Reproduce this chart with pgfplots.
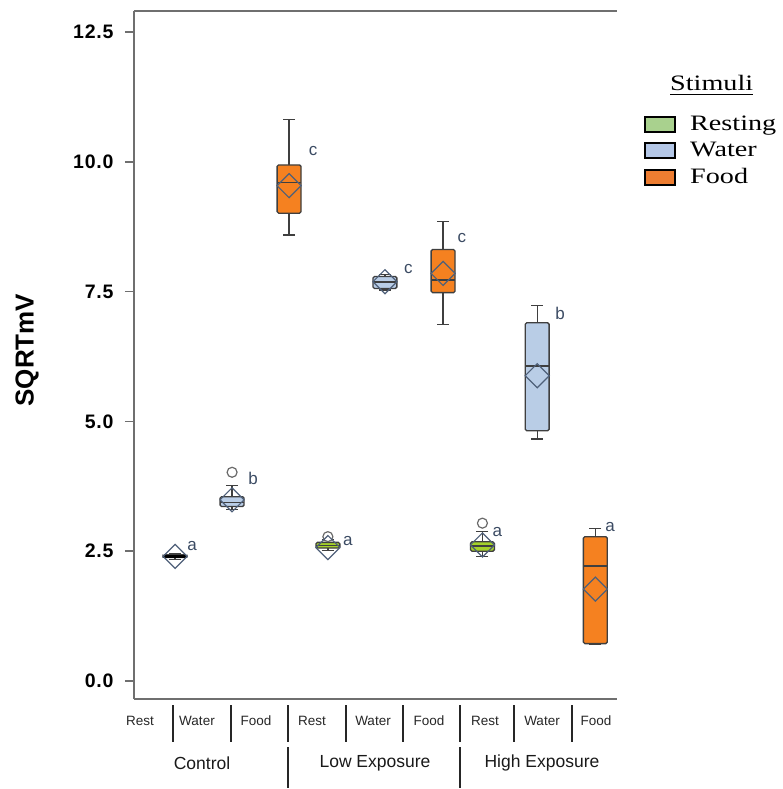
\documentclass[border=0pt]{standalone}
\usepackage{fontspec}
\setmainfont{Liberation Sans}
\newfontfamily\legendfont{Liberation Serif}
\usepackage{pgfplots}
\pgfplotsset{compat=1.18}
\usepgfplotslibrary{statistics}

\definecolor{boxedge}{HTML}{3F3F3F}
\definecolor{foodorange}{HTML}{F58120}
\definecolor{waterblue}{HTML}{B9CDE6}
\definecolor{restgreen}{HTML}{A4D12B}
\definecolor{legrest}{HTML}{A9D18E}
\definecolor{legwater}{HTML}{B4C7E7}
\definecolor{legfood}{HTML}{ED7D31}
\definecolor{meancol}{HTML}{4F6079}
\definecolor{lettercol}{HTML}{3B4B63}
\definecolor{axisgray}{HTML}{6F6F6F}
\definecolor{outgray}{HTML}{6A6A6A}

\pgfplotsset{
  grpbox/.style={
    draw=boxedge, line width=1.3pt, solid,
    mark=*, mark size=5pt,
    mark options={fill=white, draw=outgray, line width=1.2pt},
    boxplot/draw direction=y,
    boxplot/box extend=0.42,
    boxplot/whisker extend=0.21,
    boxplot/every box/.style={rounded corners=1.5pt},
    boxplot/every median/.style={line width=1.6pt, draw=boxedge},
  },
}
\tikzset{
  sig/.style={font=\fontsize{17}{19}\selectfont, text=lettercol, anchor=base},
  legtext/.style={anchor=base west, inner sep=0pt, font=\legendfont\fontsize{22}{24}\selectfont},
}
% legend text is set a little wider than its natural width
\newcommand{\wide}[1]{\scalebox{1.28}[1]{#1}}

\begin{document}
\begin{tikzpicture}
\begin{axis}[
  at={(0,0)}, anchor=south west,
  scale only axis, width=483pt, height=688pt,
  xmin=0, xmax=8.47, ymin=-0.347, ymax=12.905,
  axis lines=left,
  axis line style={-, draw=axisgray, line width=1.5pt},
  xtick=\empty,
  ytick={0,2.5,5,7.5,10,12.5},
  tick align=outside,
  major tick length=9pt,
  tick style={draw=axisgray, line width=1.4pt},
  /pgf/number format/.cd, fixed, fixed zerofill, precision=1, assume math mode=true,
  /pgfplots/.cd,
  yticklabel style={font=\fontsize{19.5}{21}\selectfont\bfseries\addfontfeature{LetterSpace=4}, xshift=-8pt},
  ylabel={\bfseries SQRTmV},
  ylabel style={font=\fontsize{26}{28}\selectfont, at={(axis description cs:-0.2215,0.507)}, anchor=center},
  clip=false,
]
% top frame line
\draw[axisgray, line width=1.5pt] (rel axis cs:0,1) -- (rel axis cs:1,1);

% Control
\addplot[grpbox, fill=restgreen, boxplot prepared={draw position=0.72,
  lower whisker=2.34, lower quartile=2.38, median=2.40,
  upper quartile=2.43, upper whisker=2.46},
  boxplot/every median/.style={line width=2.6pt, draw=black}] coordinates {};
\addplot[grpbox, fill=waterblue, boxplot prepared={draw position=1.72,
  lower whisker=3.30, lower quartile=3.36, median=3.44,
  upper quartile=3.55, upper whisker=3.76}] coordinates {(0,4.02)};
\addplot[grpbox, fill=foodorange, boxplot prepared={draw position=2.72,
  lower whisker=8.59, lower quartile=9.01, median=9.60,
  upper quartile=9.94, upper whisker=10.82}] coordinates {};

% Low Exposure
\addplot[grpbox, fill=restgreen, boxplot prepared={draw position=3.40,
  lower whisker=2.52, lower quartile=2.56, median=2.61,
  upper quartile=2.67, upper whisker=2.72}] coordinates {(0,2.78)};
\addplot[grpbox, fill=waterblue, boxplot prepared={draw position=4.40,
  lower whisker=7.53, lower quartile=7.56, median=7.68,
  upper quartile=7.79, upper whisker=7.83}] coordinates {};
\addplot[grpbox, fill=foodorange, boxplot prepared={draw position=5.42,
  lower whisker=6.87, lower quartile=7.48, median=7.72,
  upper quartile=8.31, upper whisker=8.85}] coordinates {};

% High Exposure
\addplot[grpbox, fill=restgreen, boxplot prepared={draw position=6.11,
  lower whisker=2.40, lower quartile=2.50, median=2.60,
  upper quartile=2.68, upper whisker=2.88}] coordinates {(0,3.04)};
\addplot[grpbox, fill=waterblue, boxplot prepared={draw position=7.07,
  lower whisker=4.66, lower quartile=4.82, median=6.07,
  upper quartile=6.90, upper whisker=7.23}] coordinates {};
\addplot[grpbox, fill=foodorange, boxplot prepared={draw position=8.09,
  lower whisker=0.70, lower quartile=0.72, median=2.21,
  upper quartile=2.78, upper whisker=2.94}] coordinates {};

% group means
\addplot[only marks, mark=square, mark size=8.5pt,
  mark options={rotate=45, draw=meancol, line width=1.2pt}] coordinates {
  (0.72,2.40) (1.72,3.49) (2.72,9.54)
  (3.40,2.57) (4.40,7.69) (5.42,7.85)
  (6.11,2.62) (7.07,5.88) (8.09,1.77)
};

% significance letters
\node[sig] at (axis cs:1.02,2.52) {a};
\node[sig] at (axis cs:2.09,3.79) {b};
\node[sig] at (axis cs:3.14,10.13) {c};
\node[sig] at (axis cs:3.75,2.60) {a};
\node[sig] at (axis cs:4.81,7.85) {c};
\node[sig] at (axis cs:5.75,8.45) {c};
\node[sig] at (axis cs:6.37,2.79) {a};
\node[sig] at (axis cs:7.47,6.97) {b};
\node[sig] at (axis cs:8.35,2.88) {a};
\end{axis}

% category table below the axis
\begin{scope}[line width=1.5pt, draw=black!85]
  \foreach \x in {39,97,154,212,269,326,380,438}
    \draw (\x pt,-6pt) -- (\x pt,-43pt);
  \foreach \x in {154,326}
    \draw (\x pt,-48pt) -- (\x pt,-89pt);
\end{scope}
\begin{scope}[every node/.style={font=\fontsize{13.5}{15}\selectfont, text=black!85}]
  \node at (6pt,-22pt) {Rest};
  \node at (63pt,-22pt) {Water};
  \node at (122pt,-22pt) {Food};
  \node at (178pt,-22pt) {Rest};
  \node at (239pt,-22pt) {Water};
  \node at (295pt,-22pt) {Food};
  \node at (351pt,-22pt) {Rest};
  \node at (408pt,-22pt) {Water};
  \node at (462pt,-22pt) {Food};
\end{scope}
\begin{scope}[every node/.style={font=\fontsize{17.5}{19}\selectfont, text=black!90}]
  \node at (68pt,-64pt) {Control};
  \node at (241pt,-64pt) {Low Exposure};
  \node at (408pt,-64pt) {High Exposure};
\end{scope}

% legend
\node[legtext] (lt) at (536pt,608pt) {\wide{Stimuli}};
\draw[line width=1pt] (lt.west |- 0,604pt) -- (lt.east |- 0,604pt);
\begin{scope}[line width=1.5pt]
  \draw[fill=legrest]  (511pt,567pt) rectangle (541pt,582pt);
  \draw[fill=legwater] (511pt,541pt) rectangle (541pt,556pt);
  \draw[fill=legfood]  (511pt,514pt) rectangle (541pt,529pt);
\end{scope}
\node[legtext] at (556pt,568pt) {\wide{Resting}};
\node[legtext] at (556pt,542pt) {\wide{Water}};
\node[legtext] at (556pt,515pt) {\wide{Food}};

\pgfresetboundingbox
\path[use as bounding box] (-134pt,-90pt) rectangle (648pt,699pt);
\end{tikzpicture}
\end{document}
